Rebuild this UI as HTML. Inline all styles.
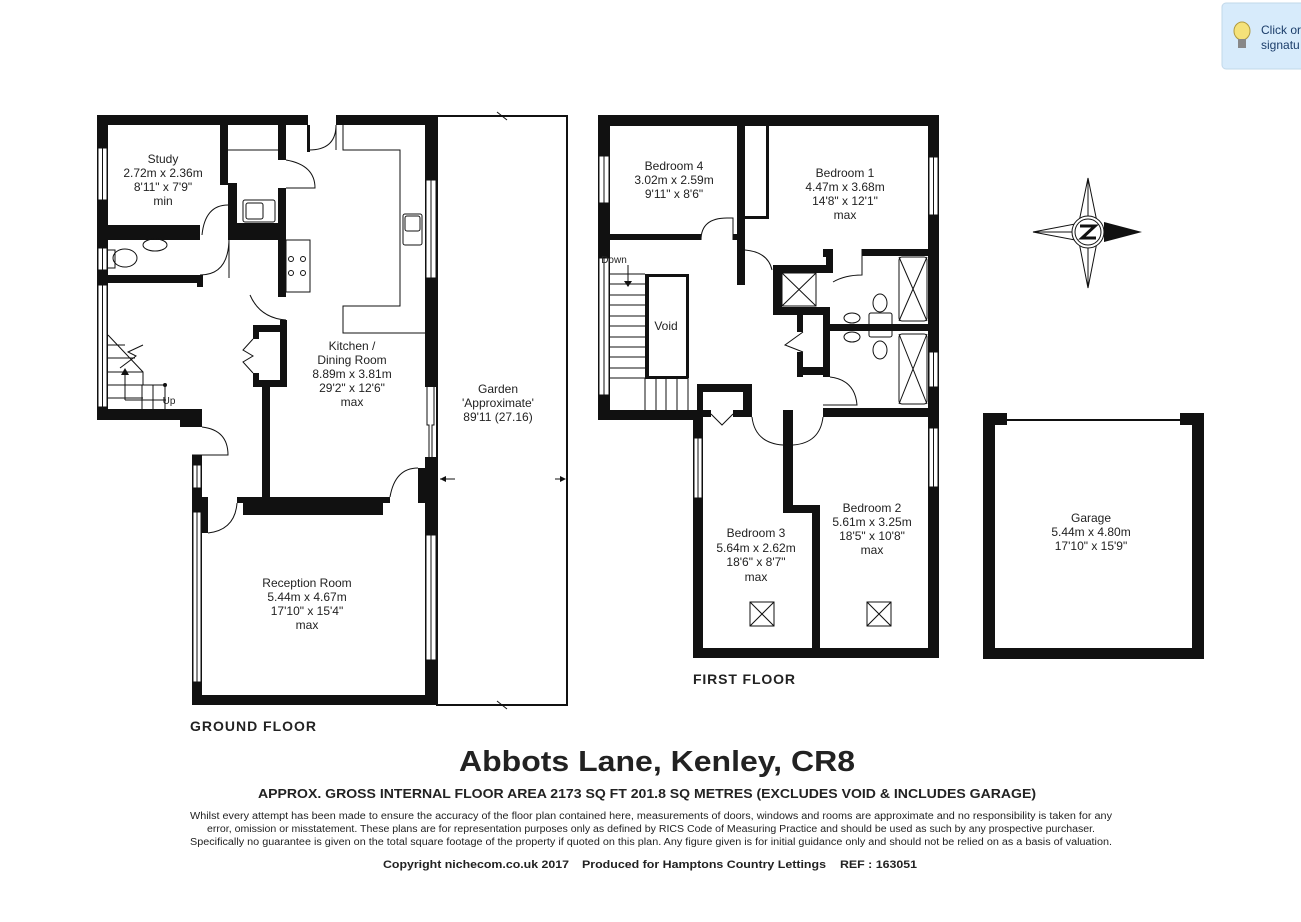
<!DOCTYPE html>
<html><head><meta charset="utf-8"><style>
html,body{margin:0;padding:0;background:#fff;}
svg{display:block;}
text{font-family:"Liberation Sans",sans-serif;fill:#222;}
.l{font-size:12px;text-anchor:middle;}
</style></head><body>
<svg width="1301" height="922" viewBox="0 0 1301 922" xmlns="http://www.w3.org/2000/svg">
<rect width="1301" height="922" fill="#fff"/>

<rect x="1222" y="3" width="90" height="66" rx="4" fill="#d7ebfb" stroke="#c2d8ea"/>
<ellipse cx="1242" cy="31" rx="8" ry="9" fill="#f5e27a" stroke="#b09a40"/>
<rect x="1238" y="39" width="8" height="9" fill="#888"/>
<text x="1261" y="34" style="font-size:12px;fill:#1b3d6a">Click or</text>
<text x="1261" y="49" style="font-size:12px;fill:#1b3d6a">signatu</text>

<g fill="#111" stroke="none">
<rect x="97" y="115" width="211" height="10"/>
<rect x="336" y="115" width="101" height="10"/>
<rect x="97" y="115" width="11" height="305"/>
<rect x="97" y="225" width="103" height="15"/>
<rect x="107" y="275" width="93" height="8"/>
<rect x="197" y="275" width="6" height="12"/>
<rect x="220" y="125" width="8" height="60"/>
<rect x="228" y="183" width="9" height="57"/>
<rect x="228" y="223" width="58" height="17"/>
<rect x="278" y="125" width="8" height="35"/>
<rect x="278" y="188" width="8" height="109"/>
<rect x="307" y="125" width="3" height="27"/>
<rect x="97" y="409" width="105" height="11"/>
<rect x="180" y="409" width="22" height="18"/>
<rect x="192" y="455" width="10" height="250"/>
<rect x="202" y="497" width="6" height="36"/>
<rect x="192" y="695" width="245" height="10"/>
<rect x="425" y="115" width="12" height="272"/>
<rect x="425" y="457" width="12" height="248"/>
<rect x="418" y="468" width="7" height="35"/>
<rect x="280" y="320" width="7" height="67"/>
<rect x="253" y="325" width="34" height="7"/>
<rect x="253" y="325" width="6" height="14"/>
<rect x="253" y="373" width="6" height="14"/>
<rect x="253" y="380" width="34" height="7"/>
<rect x="262" y="387" width="8" height="112"/>
<rect x="237" y="497" width="153" height="6"/>
<rect x="243" y="497" width="140" height="18"/>

<rect x="598" y="115" width="341" height="11"/>
<rect x="598" y="115" width="12" height="305"/>
<rect x="598" y="410" width="99" height="10"/>
<rect x="608" y="234" width="93" height="6"/>
<rect x="733" y="234" width="10" height="6"/>
<rect x="737" y="115" width="8" height="170"/>
<rect x="766" y="126" width="3" height="93"/>
<rect x="745" y="216" width="24" height="3"/>
<rect x="862" y="249" width="77" height="7"/>
<rect x="823" y="249" width="10" height="8"/>
<rect x="826" y="249" width="7" height="24"/>
<rect x="773" y="265" width="60" height="8"/>
<rect x="773" y="265" width="9" height="50"/>
<rect x="773" y="307" width="57" height="8"/>
<rect x="823" y="307" width="7" height="70"/>
<rect x="797" y="315" width="6" height="17"/>
<rect x="797" y="352" width="6" height="25"/>
<rect x="797" y="367" width="33" height="8"/>
<rect x="830" y="324" width="100" height="7"/>
<rect x="823" y="408" width="107" height="9"/>
<rect x="928" y="115" width="11" height="543"/>
<rect x="697" y="384" width="55" height="8"/>
<rect x="697" y="384" width="6" height="30"/>
<rect x="743" y="384" width="9" height="33"/>
<rect x="693" y="410" width="10" height="248"/>
<rect x="703" y="410" width="8" height="7"/>
<rect x="733" y="410" width="19" height="7"/>
<rect x="783" y="410" width="10" height="103"/>
<rect x="783" y="505" width="37" height="8"/>
<rect x="812" y="505" width="8" height="153"/>
<rect x="693" y="648" width="246" height="10"/>
<rect x="645" y="274" width="4" height="104"/>
<rect x="645" y="274" width="43" height="3"/>
<rect x="645" y="376" width="43" height="3"/>
<rect x="686" y="274" width="3" height="104"/>

<rect x="983" y="413" width="12" height="246"/>
<rect x="983" y="413" width="24" height="12"/>
<rect x="1180" y="413" width="24" height="12"/>
<rect x="1192" y="413" width="12" height="246"/>
<rect x="983" y="648" width="221" height="11"/>
</g>
<line x1="1007" y1="420" x2="1180" y2="420" stroke="#111" stroke-width="2"/>

<g fill="#fff" stroke="#111" stroke-width="1">
<rect x="98" y="148" width="9" height="52"/>
<rect x="98" y="248" width="9" height="22"/>
<rect x="98" y="285" width="9" height="122"/>
<rect x="193" y="465" width="8" height="23"/>
<rect x="193" y="512" width="8" height="170"/>
<rect x="426" y="180" width="10" height="98"/>
<rect x="426" y="535" width="10" height="125"/>
<rect x="599" y="156" width="10" height="47"/>
<rect x="599" y="258" width="10" height="137"/>
<rect x="929" y="157" width="9" height="58"/>
<rect x="929" y="352" width="9" height="35"/>
<rect x="929" y="428" width="9" height="59"/>
<rect x="694" y="438" width="8" height="60"/>
</g>
<g stroke="#111" stroke-width="1">
<line x1="102.5" y1="148" x2="102.5" y2="200"/><line x1="102.5" y1="285" x2="102.5" y2="407"/>
<line x1="102.5" y1="248" x2="102.5" y2="270"/>
<line x1="197" y1="465" x2="197" y2="488"/><line x1="197" y1="512" x2="197" y2="682"/>
<line x1="431" y1="180" x2="431" y2="278"/><line x1="431" y1="535" x2="431" y2="660"/>
<line x1="604" y1="156" x2="604" y2="203"/><line x1="604" y1="258" x2="604" y2="395"/>
<line x1="933.5" y1="157" x2="933.5" y2="215"/><line x1="933.5" y1="352" x2="933.5" y2="387"/><line x1="933.5" y1="428" x2="933.5" y2="487"/>
<line x1="698" y1="438" x2="698" y2="498"/>
</g>

<g fill="none" stroke="#111" stroke-width="1">
<path d="M427 387 V425 H429 V457 M434 387 V425 H432 V457"/>
<rect x="437" y="116" width="130" height="589" stroke-width="2"/>
<line x1="497" y1="112" x2="507" y2="120"/><line x1="497" y1="701" x2="507" y2="709"/>
<path d="M455 479 H440 M555 479 H565"/>
<path d="M343 125 V150 H400 V306 H343 V333 H425"/>
<line x1="228" y1="150" x2="278" y2="150"/>
<rect x="286" y="240" width="24" height="52"/>
<circle cx="291" cy="259" r="2.5"/><circle cx="303" cy="259" r="2.5"/><circle cx="291" cy="273" r="2.5"/><circle cx="303" cy="273" r="2.5"/>
<rect x="243" y="200" width="32" height="22" rx="2"/><rect x="246" y="203" width="17" height="16" rx="2"/>
<rect x="403" y="214" width="19" height="31" rx="2"/><rect x="405" y="216" width="15" height="15" rx="2"/>
<ellipse cx="155" cy="245" rx="12" ry="6"/>
<ellipse cx="125" cy="258" rx="12" ry="9"/><rect x="107" y="250" width="8" height="18"/>
<path d="M336 125 V150 M309 150 Q336 150 336 125"/>
<path d="M286 160 Q315 165 315 188 H286"/>
<path d="M228 205 Q205 205 202 235"/>
<path d="M229 238 V278 M200 275 Q229 275 229 238"/>
<path d="M250 295 Q260 318 286 320"/>
<path d="M202 427 Q228 430 228 455 H192"/>
<path d="M208 533 Q235 530 237 503"/>
<path d="M418 468 Q395 468 390 497"/>
<path d="M253 339 L243 350 L253 356 L243 362 L253 373"/>
<path d="M108 335 L143 372 V385 H165 M108 345 H125 M108 358 H135 M108 372 H143 M108 385 H143 M108 398 H143 M142 385 V409 M153 385 V409 M165 385 V409 M125 400 V370"/>
<circle cx="165" cy="385" r="1.5" fill="#111"/>
<path d="M143 345 L128 352 L136 356 L120 368"/>
<line x1="125" y1="400" x2="166" y2="400"/>
<path d="M610 274 H645 M610 284 H645 M610 295 H645 M610 305 H645 M610 316 H645 M610 326 H645 M610 337 H645 M610 347 H645 M610 357 H645 M610 368 H645 M610 378 H645"/>
<path d="M645 378 V410 M656 378 V410 M666 378 V410 M677 378 V410 M688 378 V410"/>
<line x1="628" y1="265" x2="628" y2="285"/>
<path d="M701 240 Q701 218 727 218 H733 V240"/>
<path d="M745 250 Q768 252 772 270"/>
<path d="M862 249 V275 Q845 275 833 282"/>
<path d="M803 332 L785 345 L803 352"/>
<path d="M830 377 Q855 380 857 405 H823"/>
<path d="M711 414 L722 425 L733 414"/>
<path d="M752 417 Q755 443 783 445"/>
<path d="M793 445 Q820 443 823 417"/>
<rect x="782" y="273" width="34" height="33"/><path d="M782 273 L816 306 M816 273 L782 306"/>
<rect x="899" y="257" width="28" height="64" rx="3"/><path d="M899 257 L927 321 M927 257 L899 321"/>
<rect x="899" y="334" width="28" height="70" rx="3"/><path d="M899 334 L927 404 M927 334 L899 404"/>
<ellipse cx="852" cy="318" rx="8" ry="5"/><ellipse cx="852" cy="337" rx="8" ry="5"/>
<rect x="869" y="313" width="23" height="24" rx="2"/>
<ellipse cx="880" cy="303" rx="7" ry="9"/><ellipse cx="880" cy="350" rx="7" ry="9"/>
<rect x="750" y="602" width="24" height="24"/><path d="M750 602 L774 626 M774 602 L750 626"/>
<rect x="867" y="602" width="24" height="24"/><path d="M867 602 L891 626 M891 602 L867 626"/>
<path d="M1088 178 L1079 222 L1088 232 L1097 222 Z M1088 288 L1079 242 L1088 232 L1097 242 Z M1033 232 L1075 224 L1088 232 L1075 240 Z M1088 178 V288 M1033 232 H1088"/>
<circle cx="1088" cy="232" r="16" fill="#fff"/><circle cx="1088" cy="232" r="13"/>
</g>
<path d="M1104 222 L1142 232 L1104 242 Z" fill="#111"/>
<path d="M1080 226 H1095 L1082 238 H1096" fill="none" stroke="#111" stroke-width="3"/>
<g fill="#111">
<path d="M440 479 l6 -3 v6 z"/><path d="M566 479 l-6 -3 v6 z"/>
<path d="M125 368 l-4 7 h8 z"/>
<path d="M628 287 l-4 -6 h8 z"/>
</g>

<g class="l">
<text class="l" x="163" y="163">Study</text><text class="l" x="163" y="177">2.72m x 2.36m</text><text class="l" x="163" y="191">8'11" x 7'9"</text><text class="l" x="163" y="205">min</text>
<text class="l" x="352" y="350">Kitchen /</text><text class="l" x="352" y="364">Dining Room</text><text class="l" x="352" y="378">8.89m x 3.81m</text><text class="l" x="352" y="392">29'2" x 12'6"</text><text class="l" x="352" y="406">max</text>
<text class="l" x="498" y="393">Garden</text><text class="l" x="498" y="407">'Approximate'</text><text class="l" x="498" y="421">89'11 (27.16)</text>
<text class="l" x="307" y="587">Reception Room</text><text class="l" x="307" y="601">5.44m x 4.67m</text><text class="l" x="307" y="615">17'10" x 15'4"</text><text class="l" x="307" y="629">max</text>
<text class="l" x="674" y="170">Bedroom 4</text><text class="l" x="674" y="184">3.02m x 2.59m</text><text class="l" x="674" y="198">9'11" x 8'6"</text>
<text class="l" x="845" y="177">Bedroom 1</text><text class="l" x="845" y="191">4.47m x 3.68m</text><text class="l" x="845" y="205">14'8" x 12'1"</text><text class="l" x="845" y="219">max</text>
<text x="614" y="263" style="font-size:10px">Down</text>
<text class="l" x="666" y="330">Void</text>
<text x="169" y="404" style="font-size:10px">Up</text>
<text class="l" x="756" y="537">Bedroom 3</text><text class="l" x="756" y="552">5.64m x 2.62m</text><text class="l" x="756" y="566">18'6" x 8'7"</text><text class="l" x="756" y="581">max</text>
<text class="l" x="872" y="512">Bedroom 2</text><text class="l" x="872" y="526">5.61m x 3.25m</text><text class="l" x="872" y="540">18'5" x 10'8"</text><text class="l" x="872" y="554">max</text>
<text class="l" x="1091" y="522">Garage</text><text class="l" x="1091" y="536">5.44m x 4.80m</text><text class="l" x="1091" y="550">17'10" x 15'9"</text>
</g>

<text x="190" y="731" style="font-size:14px;font-weight:bold" textLength="126">GROUND FLOOR</text>
<text x="693" y="684" style="font-size:14px;font-weight:bold" textLength="102">FIRST FLOOR</text>
<text x="459" y="771" style="font-size:29px;font-weight:bold" textLength="396" lengthAdjust="spacingAndGlyphs">Abbots Lane, Kenley, CR8</text>
<text x="258" y="798" style="font-size:13px;font-weight:bold" textLength="778" lengthAdjust="spacingAndGlyphs">APPROX. GROSS INTERNAL FLOOR AREA 2173 SQ FT 201.8 SQ METRES (EXCLUDES VOID &amp; INCLUDES GARAGE)</text>
<text x="190" y="819" style="font-size:10px" textLength="922" lengthAdjust="spacingAndGlyphs">Whilst every attempt has been made to ensure the accuracy of the floor plan contained here, measurements of doors, windows and rooms are approximate and no responsibility is taken for any</text>
<text x="207" y="832" style="font-size:10px" textLength="888" lengthAdjust="spacingAndGlyphs">error, omission or misstatement. These plans are for representation purposes only as defined by RICS Code of Measuring Practice and should be used as such by any prospective purchaser.</text>
<text x="190" y="845" style="font-size:10px" textLength="922" lengthAdjust="spacingAndGlyphs">Specifically no guarantee is given on the total square footage of the property if quoted on this plan. Any figure given is for initial guidance only and should not be relied on as a basis of valuation.</text>
<text x="383" y="868" style="font-size:11px;font-weight:bold" textLength="186" lengthAdjust="spacingAndGlyphs">Copyright nichecom.co.uk 2017</text>
<text x="582" y="868" style="font-size:11px;font-weight:bold" textLength="244" lengthAdjust="spacingAndGlyphs">Produced for Hamptons Country Lettings</text>
<text x="840" y="868" style="font-size:11px;font-weight:bold" textLength="77" lengthAdjust="spacingAndGlyphs">REF : 163051</text>
</svg>
</body></html>
